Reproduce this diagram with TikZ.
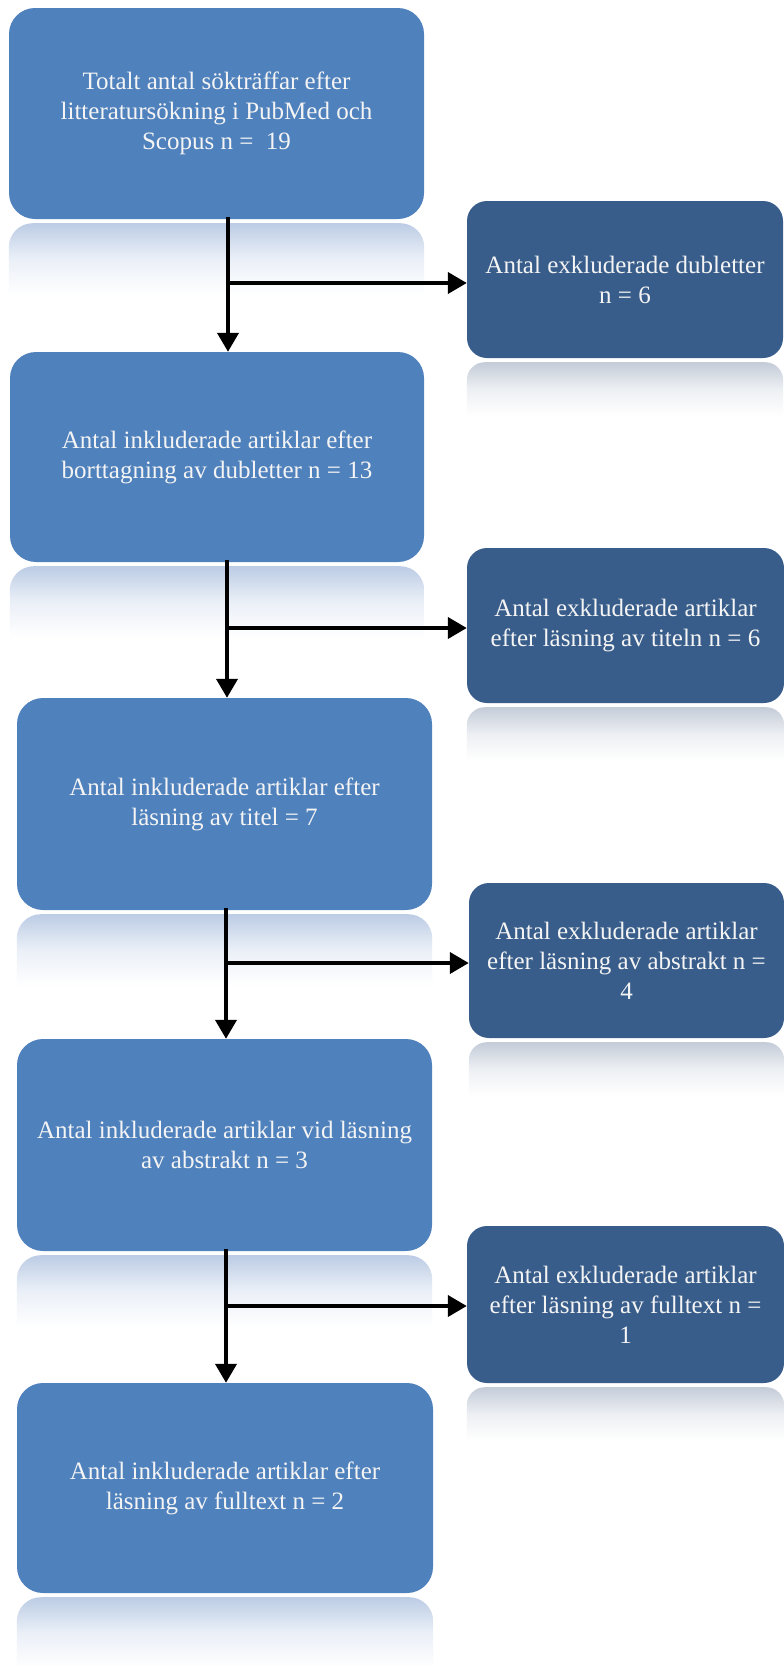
\documentclass[tikz,border=0pt]{standalone}
\usepackage{fontspec}
\setmainfont{Liberation Serif}
\usetikzlibrary{arrows.meta}
\definecolor{mainblue}{HTML}{4F81BD}
\definecolor{darkblue}{HTML}{385D8A}
\definecolor{reflmain}{HTML}{BCCCE5}
\definecolor{reflexcl}{HTML}{C4CCD8}
\definecolor{txt}{HTML}{F4F4F4}
\tikzset{
  mainbox/.style={fill=mainblue, rounded corners=26pt, align=center, text=txt,
    font=\fontsize{25}{30}\selectfont, inner sep=0pt},
  exclbox/.style={fill=darkblue, rounded corners=20pt, align=center, text=txt,
    font=\fontsize{25}{30}\selectfont, inner sep=0pt},
  arr/.style={line width=4pt, -{Triangle[width=21pt,length=19pt]}},
  reflmainstyle/.style={top color=reflmain, bottom color=white, middle color=reflmain!30!white},
  reflexclstyle/.style={top color=reflexcl, bottom color=white, middle color=reflexcl!30!white},
}
\begin{document}
\begin{tikzpicture}[x=1pt,y=-1pt]
\useasboundingbox (0,0) rectangle (784,1665);
\fill[white] (0,0) rectangle (784,1665);

% main boxes
\node[mainbox, minimum width=415pt, minimum height=211pt] (b1) at (216.5,113.5)
  {Totalt antal sökträffar efter\\litteratursökning i PubMed och\\Scopus n = \ 19};
\node[mainbox, minimum width=414pt, minimum height=210pt] (b2) at (217,457)
  {Antal inkluderade artiklar efter\\borttagning av dubletter n = 13};
\node[mainbox, minimum width=415pt, minimum height=212pt] (b3) at (224.5,804)
  {Antal inkluderade artiklar efter\\läsning av titel = 7};
\node[mainbox, minimum width=415pt, minimum height=212pt] (b4) at (224.5,1145)
  {Antal inkluderade artiklar vid läsning\\av abstrakt n = 3};
\node[mainbox, minimum width=416pt, minimum height=210pt] (b5) at (225,1488)
  {Antal inkluderade artiklar efter\\läsning av fulltext n = 2};

% exclusion boxes
\node[exclbox, minimum width=316pt, minimum height=157pt] (e1) at (625,279.5)
  {Antal exkluderade dubletter\\n = 6};
\node[exclbox, minimum width=317pt, minimum height=155pt] (e2) at (625.5,625.5)
  {Antal exkluderade artiklar\\efter läsning av titeln n = 6};
\node[exclbox, minimum width=315pt, minimum height=155pt] (e3) at (626.5,960.5)
  {Antal exkluderade artiklar\\efter läsning av abstrakt n =\\4};
\node[exclbox, minimum width=317pt, minimum height=157pt] (e4) at (625.5,1304.5)
  {Antal exkluderade artiklar\\efter läsning av fulltext n =\\1};

% reflections
\foreach \n in {b1,b2,b3,b4,b5}{
  \shade[reflmainstyle]
    ([yshift=-76pt]\n.south west) [rounded corners=24pt] -- ([yshift=-4pt]\n.south west)
    -- ([yshift=-4pt]\n.south east) [sharp corners] -- ([yshift=-76pt]\n.south east) -- cycle;
}
\foreach \n in {e1,e2,e3,e4}{
  \shade[reflexclstyle]
    ([yshift=-58pt]\n.south west) [rounded corners=18pt] -- ([yshift=-4pt]\n.south west)
    -- ([yshift=-4pt]\n.south east) [sharp corners] -- ([yshift=-58pt]\n.south east) -- cycle;
}

% junction coordinates
\coordinate (j1) at (228,283);
\coordinate (j2) at (227,628);
\coordinate (j3) at (226,963);
\coordinate (j4) at (226,1306);

% connectors
\draw[arr] ([yshift=2pt]b1.south -| j1) -- (b2.north -| j1);
\draw[arr] ([yshift=2pt]b2.south -| j2) -- (b3.north -| j2);
\draw[arr] ([yshift=2pt]b3.south -| j3) -- (b4.north -| j3);
\draw[arr] ([yshift=2pt]b4.south -| j4) -- (b5.north -| j4);
\draw[arr] (j1) -- (j1 -| e1.west);
\draw[arr] (j2) -- (j2 -| e2.west);
\draw[arr] (j3) -- (j3 -| e3.west);
\draw[arr] (j4) -- (j4 -| e4.west);
\end{tikzpicture}
\end{document}
